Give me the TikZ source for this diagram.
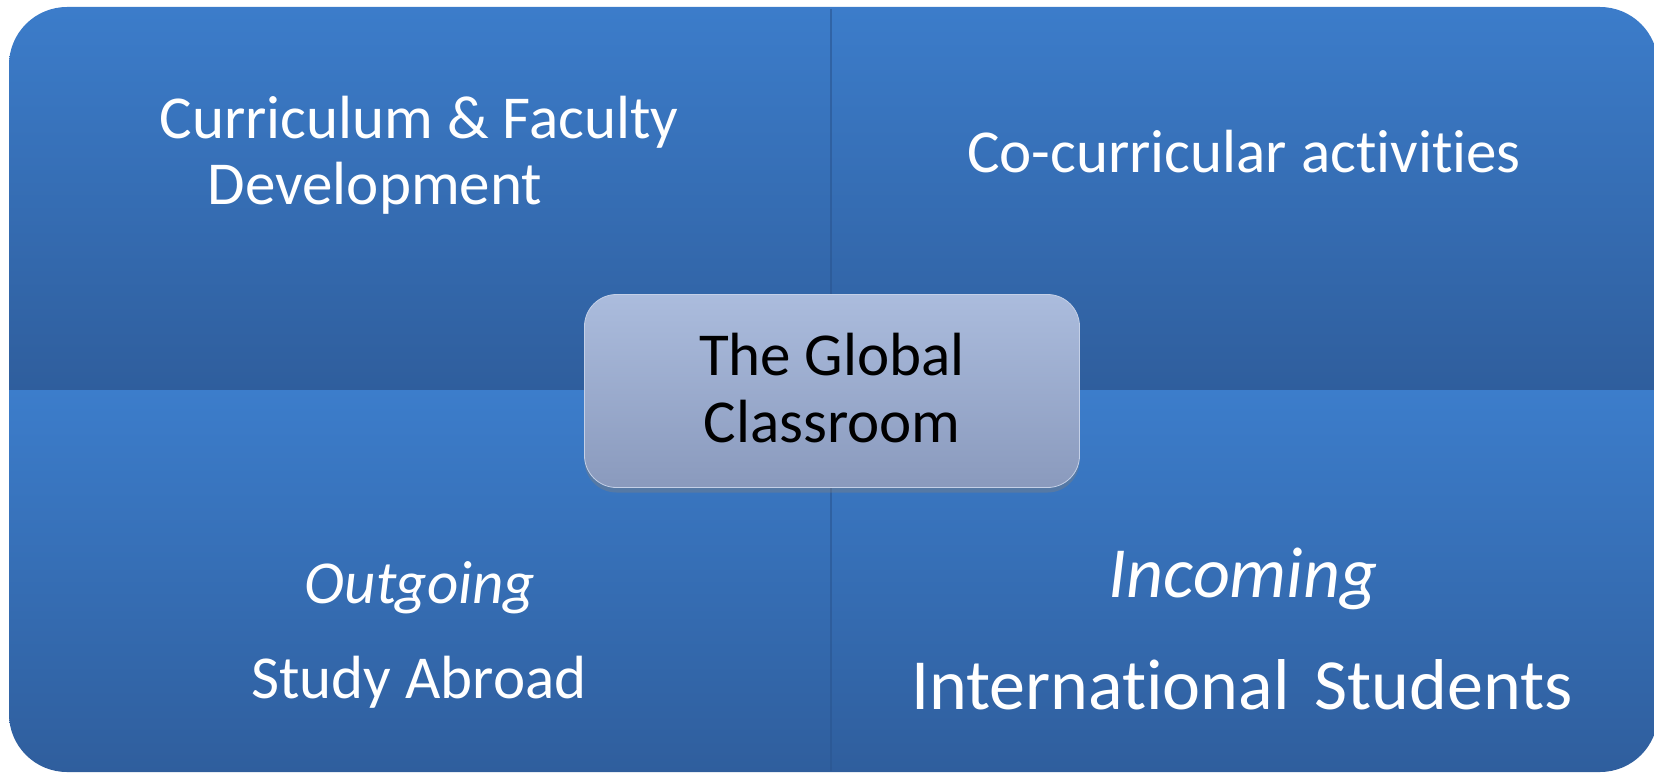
\documentclass[tikz,border=0pt]{standalone}
\usepackage{fontspec}
\setmainfont[Ligatures={NoCommon}]{Carlito}
\usetikzlibrary{shadows}
\definecolor{qtop}{HTML}{3C7DCB}
\definecolor{qbot}{HTML}{2F5E9D}
\definecolor{btop}{HTML}{ABBCDD}
\definecolor{bbot}{HTML}{8A9ABD}
\definecolor{divider}{HTML}{2A5590}
\begin{document}
\begin{tikzpicture}[x=1pt,y=-1pt,
  qlabel/.style={text=white, font=\fontsize{61}{65}\selectfont, inner sep=0pt, anchor=base},
  qbig/.style={text=white, font=\fontsize{72}{76}\selectfont, inner sep=0pt, anchor=base},
  clabel/.style={text=black, font=\fontsize{61}{67}\selectfont, inner sep=0pt, anchor=base},
  hub/.style={rectangle, rounded corners=32pt, minimum width=495pt, minimum height=193pt,
    top color=btop, bottom color=bbot, draw=btop!70!white, line width=0.8pt,
    drop shadow={shadow xshift=0pt, shadow yshift=-5pt, opacity=0.4}}]
\useasboundingbox (0,0) rectangle (1654,773);
\begin{scope}
  \clip[rounded corners=58pt] (9,7) rectangle (1658,772);
  \shade[top color=qtop, bottom color=qbot] (0,0) rectangle (1660,390);
  \shade[top color=qtop, bottom color=qbot] (0,390) rectangle (1660,773);
\end{scope}
\coordinate (dtop) at (831,9);
\coordinate (dbot) at (831,771);
\draw[divider, line width=1.5pt, opacity=0.6] (dtop) -- (dbot);

\node[hub] (hubbox) at (832,391) {};

\node[qlabel] (tl1) at (419,139) {Curriculum \& Faculty};
\node[qlabel] (tl2) at (375,204) {Development};
\node[qlabel] (tr) at (1244,172) {Co-curricular activities};
\node[qlabel, font=\fontsize{61}{65}\selectfont\itshape] (bl1) at (420,603) {Outgoing};
\node[qlabel] (bl2) at (419,698) {Study Abroad};
\node[qbig, font=\fontsize{72}{76}\selectfont\itshape] (br1) at (1243,597) {Incoming};
\node[qbig] (br2) at (1242,709) {International\hspace{25pt}Students};
\node[clabel] (c1) at (832,375) {The Global};
\node[clabel] (c2) at (832,442) {Classroom};
\end{tikzpicture}
\end{document}
